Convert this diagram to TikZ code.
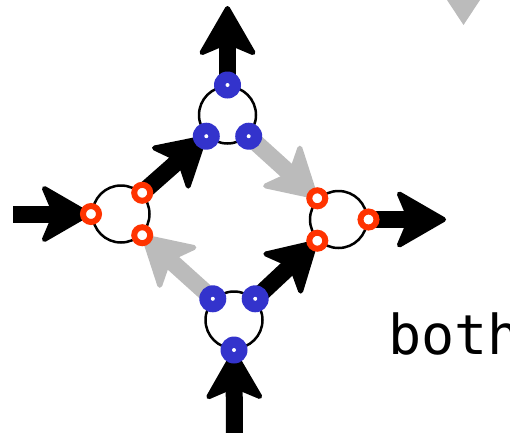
\documentclass[tikz,border=0pt]{standalone}
\usepackage{fontspec}
\newfontfamily\monofont{DejaVu Sans Mono}
\usetikzlibrary{arrows.meta}
\definecolor{dotblue}{HTML}{3333CC}
\definecolor{dotred}{HTML}{FF3300}
\definecolor{flowgray}{HTML}{BBBBBB}
\begin{document}
\begin{tikzpicture}[x=1pt,y=-1pt,
  hub/.style={circle,draw=black,line width=2.5pt,minimum size=57pt,inner sep=0pt,outer sep=1.5pt},
  bdot/.style={circle,fill=dotblue,minimum size=27pt,inner sep=0pt,
    path picture={\fill[white] (path picture bounding box.center) circle (2pt);}},
  rdot/.style={circle,draw=dotred,line width=6pt,fill=white,minimum size=16pt,inner sep=0pt},
  flow/.style={line width=17pt,
    -{Stealth[length=54pt,width=62pt,inset=13pt,line width=5pt,round]}},
  flowblack/.style={flow,draw=black},
  flowgrey/.style={flow,draw=flowgray}]
\useasboundingbox (0,0) rectangle (510,432);
\clip (0,0) rectangle (510,432);

% hubs
\node[hub] (T) at (227.5,115) {};
\node[hub] (L) at (121,214) {};
\node[hub] (R) at (338.5,219.5) {};
\node[hub] (B) at (234,320) {};

% free ends of the outer connectors
\coordinate (topout) at (227.5,6);
\coordinate (leftin) at (13,214);
\coordinate (rightout) at (446,219.5);
\coordinate (botin) at (234.5,445);

% port positions
\coordinate (Tn) at (T.90);
\coordinate (Tw) at (T.225);
\coordinate (Te) at (T.-45);
\coordinate (Lw) at (L.180);
\coordinate (Ln) at (L.45);
\coordinate (Ls) at (L.-45);
\coordinate (Re) at (R.0);
\coordinate (Rn) at (R.135);
\coordinate (Rs) at (R.225);
\coordinate (Bs) at (B.270);
\coordinate (Bw) at (B.135);
\coordinate (Be) at (B.45);

% connectors
\draw[flowblack] (Tn) -- (topout);
\draw[flowblack] (leftin) -- (Lw);
\draw[flowblack] (Re) -- (rightout);
\draw[flowblack] (botin) -- (Bs);
\draw[flowblack] (Ln) -- (Tw);
\draw[flowgrey] (Te) -- (Rn);
\draw[flowblack] (Be) -- (Rs);
\draw[flowgrey] (Bw) -- (Ls);

% ports
\node[bdot] (pTn) at (Tn) {};
\node[bdot] (pTw) at (Tw) {};
\node[bdot] (pTe) at (Te) {};
\node[bdot] (pBs) at (Bs) {};
\node[bdot] (pBw) at (Bw) {};
\node[bdot] (pBe) at (Be) {};
\node[rdot] (pLw) at (Lw) {};
\node[rdot] (pLn) at (Ln) {};
\node[rdot] (pLs) at (Ls) {};
\node[rdot] (pRe) at (Re) {};
\node[rdot] (pRn) at (Rn) {};
\node[rdot] (pRs) at (Rs) {};

% tip of a grey connector entering from the top edge
\fill[flowgray] (447,0) -- (480,0) -- (463.5,25) -- cycle;

% label
\node[anchor=base west,inner sep=0pt,font=\monofont\fontsize{55}{60}\selectfont] (lbl) at (388,354) {both};
\end{tikzpicture}
\end{document}
